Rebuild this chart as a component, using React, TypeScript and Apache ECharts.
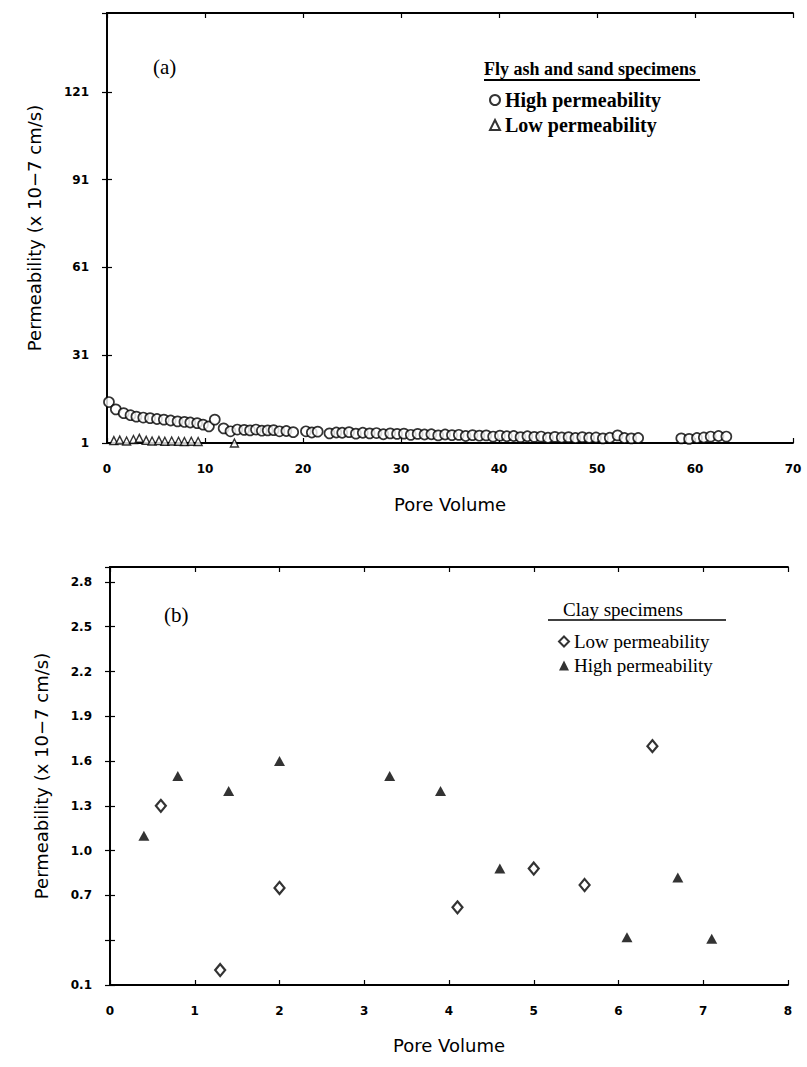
import React, { useEffect, useRef } from "react";
import * as echarts from "echarts";

// ---------- (a) Fly ash and sand specimens ----------
const aHighX = [0.2, 0.9, 1.7, 2.4, 3.0, 3.7, 4.4, 5.1, 5.8, 6.5, 7.2, 7.9, 8.5, 9.2, 9.8, 10.4, 11.0, 11.9, 12.6, 13.3, 14.0, 14.6, 15.2, 15.8, 16.4, 17.0, 17.6, 18.3, 19.0, 20.3, 20.9, 21.5, 22.7, 23.4, 24.0, 24.7, 25.4, 26.1, 26.8, 27.5, 28.2, 28.9, 29.6, 30.3, 31.0, 31.7, 32.4, 33.1, 33.8, 34.5, 35.2, 35.9, 36.6, 37.3, 38.0, 38.7, 39.4, 40.1, 40.8, 41.5, 42.2, 42.9, 43.6, 44.3, 45.0, 45.7, 46.4, 47.1, 47.8, 48.5, 49.2, 49.9, 50.6, 51.3, 52.1, 52.8, 53.5, 54.2, 58.6, 59.4, 60.2, 60.9, 61.6, 62.4, 63.2];
const aHighY = [15.0, 12.5, 11.2, 10.5, 10.0, 9.7, 9.5, 9.2, 9.0, 8.7, 8.4, 8.2, 8.0, 7.8, 7.3, 6.7, 9.0, 6.0, 5.0, 5.6, 5.5, 5.3, 5.6, 5.2, 5.3, 5.4, 5.0, 5.1, 4.7, 5.0, 4.6, 4.9, 4.3, 4.6, 4.5, 4.7, 4.2, 4.5, 4.3, 4.4, 4.0, 4.3, 4.1, 4.2, 3.8, 4.1, 3.9, 4.0, 3.6, 3.9, 3.7, 3.8, 3.4, 3.7, 3.5, 3.6, 3.2, 3.5, 3.3, 3.4, 3.0, 3.3, 3.1, 3.2, 2.8, 3.1, 2.9, 3.0, 2.7, 3.0, 2.8, 2.9, 2.6, 2.8, 3.6, 2.7, 2.6, 2.7, 2.6, 2.4, 2.7, 2.9, 3.2, 3.4, 3.2];
const aLowX = [0.7, 1.3, 2.0, 2.7, 3.3, 4.0, 4.6, 5.3, 5.9, 6.6, 7.3, 7.9, 8.6, 9.3, 13.0];
const aLowY = [1.8, 2.0, 1.7, 2.2, 2.6, 1.9, 1.7, 1.8, 1.6, 1.7, 1.6, 1.5, 1.6, 1.5, 1.0];

// ---------- (b) Clay specimens ----------
const bLowX = [0.6, 1.3, 2.0, 4.1, 5.0, 5.6, 6.4];
const bLowY = [1.3, 0.2, 0.75, 0.62, 0.88, 0.77, 1.7];
const bHighX = [0.4, 0.8, 1.4, 2.0, 3.3, 3.9, 4.6, 6.1, 6.7, 7.1];
const bHighY = [1.1, 1.5, 1.4, 1.6, 1.5, 1.4, 0.88, 0.42, 0.82, 0.41];

const yTitle = "Permeability (x 10\u22127 cm/s)";
const xTitle = "Pore Volume";

const pair = (xs: number[], ys: number[]) => xs.map((x, i) => [x, ys[i]]);

const SANS = "'DejaVu Sans', sans-serif";
const SERIF = "'Liberation Serif', serif";

export default function App() {
  const ref = useRef<HTMLDivElement>(null);
  useEffect(() => {
    if (!ref.current) return;
    const chart = echarts.init(ref.current, null, { renderer: "svg" });
    const line = { show: true, lineStyle: { color: "#000", width: 1.8 } };
    const tick = { show: true, inside: true, length: 5, lineStyle: { color: "#000", width: 1.2 } };
    const tickLabel = { color: "#000", fontFamily: SANS, fontWeight: "bold" as const, fontSize: 12 };
    const nameStyle = { color: "#000", fontFamily: SANS, fontSize: 18 };

    chart.setOption({
      animation: false,
      backgroundColor: "#fff",
      grid: [
        { left: 107, top: 13, width: 686, height: 430, show: false },
        { left: 110, top: 567, width: 678, height: 418, show: false },
      ],
      xAxis: [
        {
          gridIndex: 0, type: "value", min: 0, max: 70, interval: 10, position: "bottom",
          axisLine: line, axisTick: tick, splitLine: { show: false },
          axisLabel: { ...tickLabel, margin: 20 },
          name: xTitle, nameLocation: "middle", nameGap: 52, nameTextStyle: nameStyle,
        },
        {
          gridIndex: 0, type: "value", min: 0, max: 70, interval: 10, position: "top",
          axisLine: line, axisTick: tick, axisLabel: { show: false }, splitLine: { show: false },
        },
        {
          gridIndex: 1, type: "value", min: 0, max: 8, interval: 1, position: "bottom",
          axisLine: line, axisTick: tick, splitLine: { show: false },
          axisLabel: { ...tickLabel, margin: 20 },
          name: xTitle, nameLocation: "middle", nameGap: 51, nameTextStyle: nameStyle,
        },
        {
          gridIndex: 1, type: "value", min: 0, max: 8, interval: 1, position: "top",
          axisLine: line, axisTick: tick, axisLabel: { show: false }, splitLine: { show: false },
        },
      ],
      yAxis: [
        {
          gridIndex: 0, type: "value", min: 1, max: 148, interval: 30, position: "left",
          axisLine: line, axisTick: tick, splitLine: { show: false },
          axisLabel: { ...tickLabel, margin: 18, showMaxLabel: false },
          name: yTitle, nameLocation: "middle", nameGap: 64, nameTextStyle: nameStyle,
        },
        {
          gridIndex: 0, type: "value", min: 1, max: 148, interval: 30, position: "right",
          axisLine: line, axisTick: tick, axisLabel: { show: false }, splitLine: { show: false },
        },
        {
          gridIndex: 1, type: "value", min: 0.1, max: 2.9, interval: 0.3, position: "left",
          axisLine: line, axisTick: tick, splitLine: { show: false },
          axisLabel: {
            ...tickLabel, margin: 18, showMaxLabel: false,
            formatter: (v: number) => (Math.abs(v - 0.4) < 1e-6 ? "" : v.toFixed(1)),
          },
          name: yTitle, nameLocation: "middle", nameGap: 60, nameTextStyle: nameStyle,
        },
        {
          gridIndex: 1, type: "value", min: 0.1, max: 2.9, interval: 0.3, position: "right",
          axisLine: line, axisTick: tick, axisLabel: { show: false }, splitLine: { show: false },
        },
      ],
      legend: [
        {
          data: ["High permeability", "Low permeability"],
          orient: "vertical", left: 484, top: 85, itemGap: 5, itemWidth: 10, itemHeight: 10,
          textStyle: { color: "#000", fontFamily: SERIF, fontSize: 20, fontWeight: "bold" },
          selectedMode: false,
        },
        {
          data: ["Low permeability ", "High permeability "],
          orient: "vertical", left: 553, top: 627, itemGap: 5, itemWidth: 10, itemHeight: 10,
          textStyle: { color: "#000", fontFamily: SERIF, fontSize: 19 },
          selectedMode: false,
        },
      ],
      graphic: [
        { type: "text", left: 153, top: 56, style: { text: "(a)", font: `21px ${SERIF}`, fill: "#000" } },
        { type: "text", left: 484, top: 60, style: { text: "Fly ash and sand specimens", font: `bold 18px ${SERIF}`, fill: "#000" } },
        { type: "line", shape: { x1: 484, y1: 80, x2: 700, y2: 80 }, style: { stroke: "#000", lineWidth: 1.8 } },
        { type: "text", left: 164, top: 604, style: { text: "(b)", font: `21px ${SERIF}`, fill: "#000" } },
        { type: "text", left: 563, top: 600, style: { text: "Clay specimens", font: `19px ${SERIF}`, fill: "#000" } },
        { type: "line", shape: { x1: 548, y1: 620, x2: 726, y2: 620 }, style: { stroke: "#000", lineWidth: 1.4 } },
      ],
      series: [
        {
          name: "High permeability", type: "scatter", xAxisIndex: 0, yAxisIndex: 0,
          data: pair(aHighX, aHighY), symbol: "circle", symbolSize: 10,
          itemStyle: { color: "#fff", borderColor: "#000", borderWidth: 1.7 },
        },
        {
          name: "Low permeability", type: "scatter", xAxisIndex: 0, yAxisIndex: 0,
          data: pair(aLowX, aLowY), symbol: "triangle", symbolSize: 8,
          itemStyle: { color: "#fff", borderColor: "#000", borderWidth: 1.4 },
        },
        {
          name: "Low permeability ", type: "scatter", xAxisIndex: 2, yAxisIndex: 2,
          data: pair(bLowX, bLowY), symbol: "diamond", symbolSize: [10, 12],
          itemStyle: { color: "#fff", borderColor: "#000", borderWidth: 2.2 },
        },
        {
          name: "High permeability ", type: "scatter", xAxisIndex: 2, yAxisIndex: 2,
          data: pair(bHighX, bHighY), symbol: "triangle", symbolSize: [11, 10],
          itemStyle: { color: "#000" },
        },
      ],
    });
    return () => chart.dispose();
  }, []);
  return (
    <div
      ref={ref}
      style={{ position: "fixed", left: 0, top: 0, width: 807, height: 1067, background: "#fff" }}
    />
  );
}
